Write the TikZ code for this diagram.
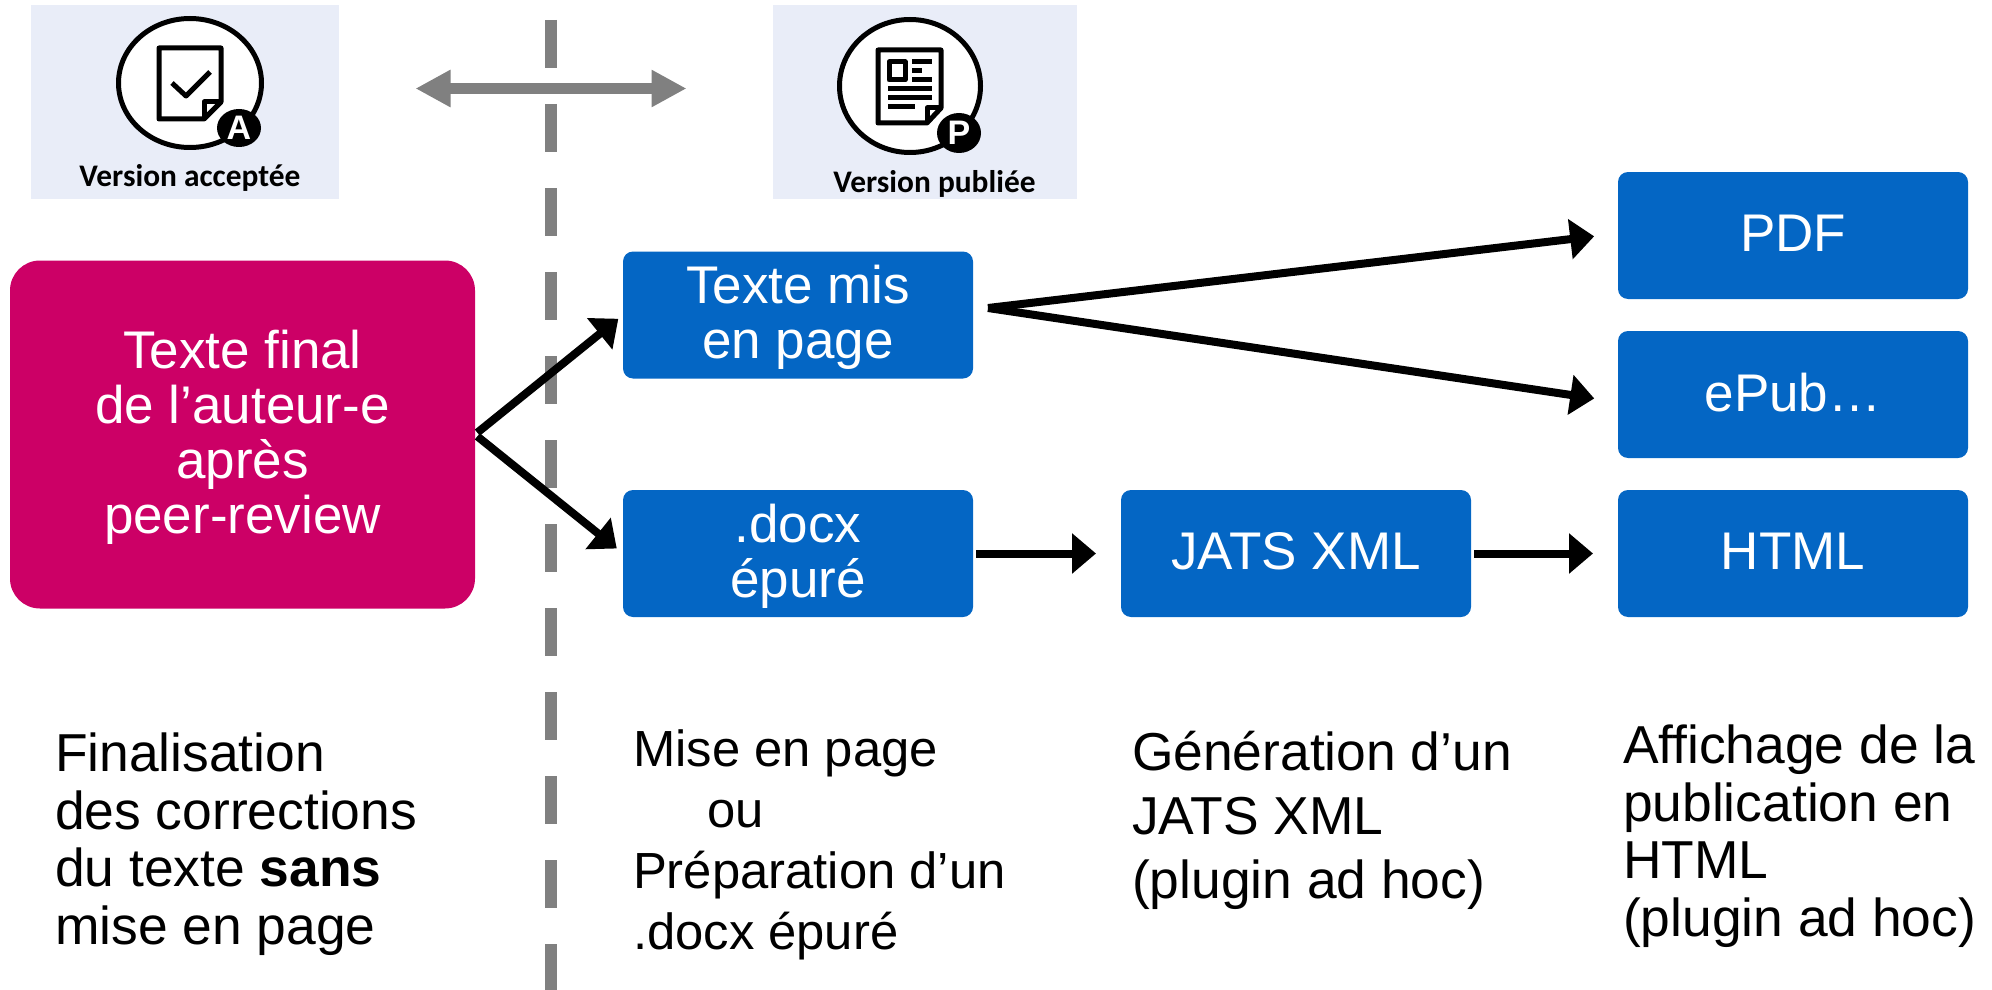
\documentclass[tikz,border=0pt]{standalone}
\usepackage{fontspec}
\setmainfont{Liberation Sans}
\newfontfamily\capfont{Carlito}
\usetikzlibrary{arrows.meta}
\definecolor{pinkbox}{HTML}{CC0066}
\definecolor{bluebox}{HTML}{0466C4}
\definecolor{paleback}{HTML}{E9EDF8}
\definecolor{midgray}{HTML}{808080}
\newcommand{\lift}{\rule{0pt}{21.8pt}}

\begin{document}
\begin{tikzpicture}[x=0.5pt,y=-0.5pt,->,>={Triangle[length=12pt,width=19.5pt]},line width=4pt,
	main node/.style={fill=bluebox,rounded corners=5pt,inner sep=0pt,outer sep=0pt,minimum width=175pt,minimum height=63.5pt,align=center,text=white,font=\fontsize{26.5}{27.5}\selectfont},
	one line/.style={main node,text depth=2.5pt},
	legend/.style={anchor=north west,inner sep=0pt,align=left,font=\fontsize{26.7}{28.75}\selectfont},
	back/.style={fill=paleback,inner sep=0pt,minimum height=97pt},
	caption/.style={inner sep=0pt,font=\capfont\bfseries\fontsize{15.7}{18}\selectfont},
	badge/.style={inner sep=0pt,text=white,font=\bfseries\fontsize{17}{18}\selectfont},
	ico/.style={-,line width=2.5pt,line join=round}]
	
	\useasboundingbox (0,0) rectangle (1992,990);
	
	% backgrounds of the two icons
	\node[back, minimum width=154pt] (acc) at (185,102) { };
	\node[back, minimum width=152pt] (pub) at (925,102) { };
	
	\draw[-,midgray,line width=6pt,dash pattern=on 24pt off 18pt] (550.5,20) -- (550.5,990);
	
	% accepted version
	\draw[ico,fill=white] (190,83) ellipse [x radius=71.5,y radius=64.5];
	\draw[ico] (204,119) -- (159,119) -- (159,48) -- (221,48) -- (221,102) -- cycle;
	\draw[ico] (204,119) -- (204,102) -- (221,102);
	\draw[ico] (172,83) -- (186,96) -- (210,72);
	\fill[black] (239,128) ellipse [x radius=22,y radius=19];
	\node[badge] (a) at (239,128) {A};
	\node[caption] (acctext) at (190,178) {Version acceptée};
	
	% published version
	\draw[ico,fill=white] (910,86) ellipse [x radius=70.5,y radius=66.5];
	\draw[ico] (927,123) -- (878,123) -- (878,50) -- (941,50) -- (941,108) -- cycle;
	\draw[ico] (927,123) -- (927,108) -- (941,108);
	\draw[ico] (889,62) rectangle (905,80);
	\draw[ico] (912,62) -- (932,62) (912,71) -- (922,71) (912,80) -- (932,80);
	\draw[ico] (888,89) -- (932,89) (888,98) -- (932,98) (888,107) -- (915,107);
	\fill[black] (959,133) ellipse [x radius=22,y radius=20];
	\node[badge] (p) at (959,133) {P};
	\node[caption] (pubtext) at (934.5,184) {Version publiée};
	
	\node[main node, style={fill=pinkbox,rounded corners=15pt,minimum width=232.5pt,minimum height=174pt}] (final) at (242.5,434.5) {\lift Texte final\\de l’auteur-e\\après\\peer-review};
	\node[main node] (mis) at (798,315) {\lift Texte mis\\en page};
	\node[main node] (docx) [below of=mis,node distance=119.25pt] {\lift .docx\\épuré};
	\node[one line] (jats) [right of=docx,node distance=249pt] {JATS XML};
	\node[one line] (html) [right of=jats,node distance=248.5pt] {HTML};
	\node[one line] (epub) [above of=html,node distance=79.5pt] {ePub…};
	\node[one line] (pdf) [above of=epub,node distance=79.5pt] {PDF};
	\coordinate (fork) at (988,308);
	
	\path
	(final.east) edge[shorten <=1.5pt,shorten >=3pt] (mis.west)
	edge[shorten <=1.5pt,shorten >=4pt] (docx.west)
	(fork) edge[shorten >=12pt] ([yshift=1pt]pdf.west)
	edge[shorten >=12pt] ([yshift=-3.75pt]epub.west)
	(docx) edge[shorten <=1.5pt,shorten >=12.5pt] (jats)
	(jats) edge[shorten <=1.5pt,shorten >=12.5pt] (html);
	
	\draw[<->,midgray,line width=5.5pt,>={Triangle[length=17.5pt,width=17.5pt]}] (415.5,88.5) -- (686.5,88.5);
	
	\node[legend] (l1) at (51,729) {Finalisation\\des corrections\\du texte \textbf{sans}\\mise en page};
	\node[legend, font=\fontsize{25.4}{30.4}\selectfont] (l2) at (629,726) {Mise en page\\\hspace*{37pt}ou\\Préparation d’un\\.docx épuré};
	\node[legend, font=\fontsize{26.7}{32}\selectfont] (l3) at (1128,727) {Génération d’un\\JATS XML\\(plugin ad hoc)};
	\node[legend] (l4) at (1619,721) {Affichage de la\\publication en\\HTML\\(plugin ad hoc)};
	
\end{tikzpicture}
\end{document}
